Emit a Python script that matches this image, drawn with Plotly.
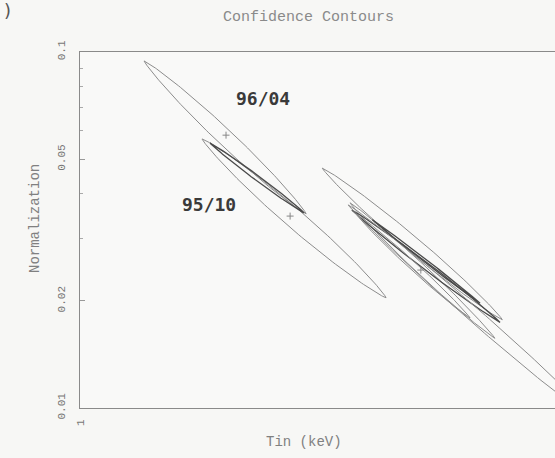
import numpy as np
import plotly.graph_objects as go

# ---- data ----
# each contour: start (Tin, Norm), end (Tin, Norm), half-width (px), colour class
c_t1 = [1.098, 1.195, 1.209, 1.424, 1.483, 1.487, 1.479, 1.496, 1.532]
c_n1 = [0.0944, 0.0570, 0.0555, 0.0472, 0.0377, 0.0360, 0.0372, 0.0351, 0.0338]
c_t2 = [1.391, 1.563, 1.387, 1.852, 1.832, 1.846, 2.136, 1.767, 1.793]
c_n2 = [0.0351, 0.0204, 0.0353, 0.0177, 0.0157, 0.0174, 0.00896, 0.0179, 0.0197]
c_hw = [8, 9.5, 2.5, 7.5, 5, 3.5, 7, 4, 1.5]
c_dark = [False, False, True, False, False, True, False, False, True]

best_t = [1.2375, 1.3588, 1.6444]
best_n = [0.0584, 0.0346, 0.0244]

label_text = ["96/04", "95/10"]
label_t = [1.306, 1.207]
label_n = [0.0738, 0.0374]

y_ticks = [0.01, 0.02, 0.05, 0.1]
y_tick_text = ["0.01", "0.02", "0.05", "0.1"]
y_minor = [0.03, 0.04, 0.06, 0.07, 0.08, 0.09]
x_ticks = [1]
x_tick_text = ["1"]

X_RANGE = [0.0, np.log10(2.0)]
Y_RANGE = [-2.0, -1.0]
W, H = 555, 458
ML, MR, MT, MB = 80, 0, 52, 50
PW, PH = W - ML - MR, H - MT - MB
SX = PW / (X_RANGE[1] - X_RANGE[0])
SY = PH / (Y_RANGE[1] - Y_RANGE[0])


def contour(t1, n1, t2, n2, hw, npts=200):
    x1, y1 = np.log10(t1) * SX, np.log10(n1) * SY
    x2, y2 = np.log10(t2) * SX, np.log10(n2) * SY
    cx, cy = (x1 + x2) / 2, (y1 + y2) / 2
    dx, dy = x2 - x1, y2 - y1
    L = np.hypot(dx, dy)
    ux, uy = dx / L, dy / L
    nx, ny = -uy, ux
    th = np.linspace(0, 2 * np.pi, npts)
    a = np.cos(th) * L / 2
    s = np.sin(th)
    b = s * np.abs(s) ** 0.5 * hw
    px = cx + a * ux + b * nx
    py = cy + a * uy + b * ny
    return 10 ** (px / SX), 10 ** (py / SY)


fig = go.Figure()
for i in range(len(c_t1)):
    xs, ys = contour(c_t1[i], c_n1[i], c_t2[i], c_n2[i], c_hw[i])
    fig.add_trace(go.Scatter(
        x=xs, y=ys, mode="lines",
        line=dict(color="#4a4a4a" if c_dark[i] else "#8c8c8c",
                  width=1.3 if c_dark[i] else 1.0),
        hoverinfo="skip", showlegend=False))

fig.add_trace(go.Scatter(
    x=best_t, y=best_n, mode="markers",
    marker=dict(symbol="cross-thin", size=5, line=dict(color="#888", width=1)),
    showlegend=False, hoverinfo="skip"))

for txt, t, n in zip(label_text, label_t, label_n):
    fig.add_annotation(x=np.log10(t), y=np.log10(n), text="<b>" + txt + "</b>",
                       showarrow=False,
                       font=dict(family="DejaVu Sans Mono", size=18, color="#3a3a3a"),
                       xanchor="center", yanchor="middle")

fig.add_annotation(xref="paper", yref="paper", x=(308 - ML) / PW, y=1 + (MT - 17) / PH,
                   text="Confidence Contours", showarrow=False,
                   font=dict(family="Liberation Mono", size=15, color="#8a8a8a"),
                   xanchor="center", yanchor="middle")
fig.add_annotation(xref="paper", yref="paper", x=-ML / PW + 0.005, y=1 + (MT - 10) / PH,
                   text=")", showarrow=False,
                   font=dict(family="DejaVu Sans", size=18, color="#555"),
                   xanchor="left", yanchor="middle")
fig.add_annotation(xref="paper", yref="paper", x=(304 - ML) / PW, y=-(442 - MT - PH) / PH,
                   text="Tin (keV)", showarrow=False,
                   font=dict(family="Liberation Mono", size=14, color="#808080"),
                   xanchor="center", yanchor="middle")
fig.add_annotation(xref="paper", yref="paper", x=-(ML - 35) / PW, y=1 - (219 - MT) / PH,
                   text="Normalization", showarrow=False, textangle=-90,
                   font=dict(family="Liberation Mono", size=14, color="#808080"),
                   xanchor="center", yanchor="middle")

fig.update_xaxes(type="log", range=X_RANGE, tickvals=x_ticks, ticktext=x_tick_text,
                 tickangle=-90, showgrid=False, zeroline=False,
                 showline=True, linecolor="#8a8a8a", linewidth=1, mirror=True,
                 ticks="", ticklabelstandoff=6,
                 tickfont=dict(family="Liberation Mono", size=11, color="#777"))
fig.update_yaxes(type="log", range=Y_RANGE, tickvals=y_ticks, ticktext=y_tick_text,
                 tickangle=-90, showgrid=False, zeroline=False,
                 showline=True, linecolor="#8a8a8a", linewidth=1, mirror=False,
                 ticks="inside", ticklen=5, tickcolor="#999", ticklabelstandoff=10,
                 minor=dict(tickvals=y_minor, ticks="inside", ticklen=3, tickcolor="#aaa"),
                 tickfont=dict(family="Liberation Mono", size=11, color="#777"))

fig.update_layout(width=W, height=H, margin=dict(l=ML, r=MR, t=MT, b=MB),
                  paper_bgcolor="#f7f7f5", plot_bgcolor="#f9f9f8",
                  showlegend=False)

fig.write_html("out.html")
